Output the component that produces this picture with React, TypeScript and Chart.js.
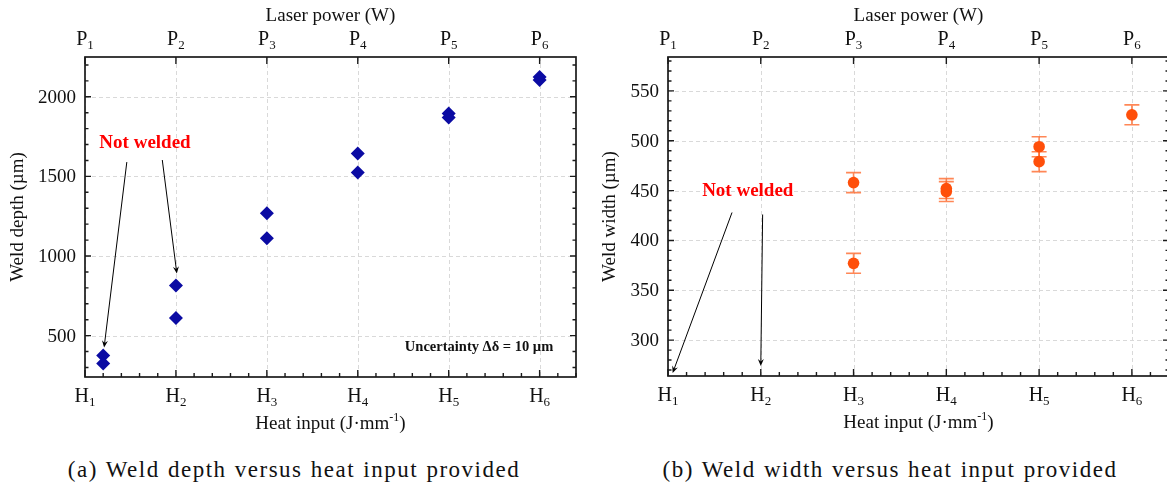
import React, { useEffect, useRef } from "react";
import { Chart, registerables } from "chart.js";
Chart.register(...registerables);

const FONT = '"Liberation Serif", "Times New Roman", Times, serif';

// Shared level positions: H1..H6 (bottom) and P1..P6 (top)
const levelPositions = [1, 2, 3, 4, 5, 6];
const levelSubscripts = ["1", "2", "3", "4", "5", "6"];

// (a) Weld depth versus heat input
const depthX = [1.2, 1.2, 2, 2, 3, 3, 4, 4, 5, 5, 6, 6];
const depthY = [375, 325, 815, 610, 1268, 1112, 1644, 1525, 1895, 1870, 2125, 2105];
const depthTicks = [500, 1000, 1500, 2000];

// (b) Weld width versus heat input
const widthX = [3, 3, 4, 4, 5, 5, 6];
const widthY = [458, 377, 452, 449, 494, 479, 526];
const widthErr = [10, 10, 10, 10, 10, 10, 10];
const widthTicks = [300, 350, 400, 450, 500, 550];

// "Not welded" annotations (data coordinates): text anchor and arrows [x0,y0,x1,y1]
const depthNoteAt = [1.66, 1710];
const depthArrows = [
  [1.46, 1590, 1.21, 425],
  [1.85, 1603, 2.01, 890],
];
const widthNoteAt = [1.86, 449];
const widthArrows = [
  [1.69, 428, 1.05, 267],
  [2.02, 426, 2.0, 274],
];
const depthUncertaintyAt = [6.15, 428];

type PanelOpts = {
  xs: number[];
  ys: number[];
  errs?: number[];
  yMin: number;
  yMax: number;
  yTicks: number[];
  yMinorStep: number;
  yTitle: string;
  padding: { left: number; right: number; top: number; bottom: number };
  pointStyle: string;
  pointRadius: number;
  color: string;
  noteAt: number[];
  arrows: number[][];
  uncertaintyAt?: number[];
  yTitleX: number;
};

function subText(
  ctx: CanvasRenderingContext2D,
  base: string,
  sub: string,
  x: number,
  y: number,
  size: number,
  subSize: number,
  subDrop: number
) {
  ctx.font = `${size}px ${FONT}`;
  const wb = ctx.measureText(base).width;
  ctx.font = `${subSize}px ${FONT}`;
  const ws = ctx.measureText(sub).width;
  const start = x - (wb + ws) / 2;
  ctx.textAlign = "left";
  ctx.textBaseline = "alphabetic";
  ctx.font = `${size}px ${FONT}`;
  ctx.fillText(base, start, y);
  ctx.font = `${subSize}px ${FONT}`;
  ctx.fillText(sub, start + wb, y + subDrop);
}

function arrow(ctx: CanvasRenderingContext2D, x0: number, y0: number, x1: number, y1: number) {
  const ang = Math.atan2(y1 - y0, x1 - x0);
  const len = 7;
  const hw = 3;
  ctx.strokeStyle = "#000";
  ctx.fillStyle = "#000";
  ctx.lineWidth = 1;
  ctx.beginPath();
  ctx.moveTo(x0, y0);
  ctx.lineTo(x1 - Math.cos(ang) * len * 0.6, y1 - Math.sin(ang) * len * 0.6);
  ctx.stroke();
  ctx.beginPath();
  ctx.moveTo(x1, y1);
  ctx.lineTo(x1 - Math.cos(ang) * len + Math.sin(ang) * hw, y1 - Math.sin(ang) * len - Math.cos(ang) * hw);
  ctx.lineTo(x1 - Math.cos(ang) * len * 0.65, y1 - Math.sin(ang) * len * 0.65);
  ctx.lineTo(x1 - Math.cos(ang) * len - Math.sin(ang) * hw, y1 - Math.sin(ang) * len + Math.cos(ang) * hw);
  ctx.closePath();
  ctx.fill();
}

function makeDecor(o: PanelOpts) {
  return {
    id: "decor",
    beforeDatasetsDraw(chart: any) {
      const ctx: CanvasRenderingContext2D = chart.ctx;
      const { left, right, top, bottom } = chart.chartArea;
      const xs = chart.scales.x;
      const ys = chart.scales.y;
      ctx.save();
      ctx.strokeStyle = "#d9d9d9";
      ctx.lineWidth = 1;
      ctx.setLineDash([4, 3]);
      for (const p of levelPositions) {
        const x = Math.round(xs.getPixelForValue(p)) + 0.5;
        ctx.beginPath();
        ctx.moveTo(x, top);
        ctx.lineTo(x, bottom);
        ctx.stroke();
      }
      for (const t of o.yTicks) {
        const y = Math.round(ys.getPixelForValue(t)) + 0.5;
        ctx.beginPath();
        ctx.moveTo(left, y);
        ctx.lineTo(right, y);
        ctx.stroke();
      }
      ctx.setLineDash([]);
      if (o.errs) {
        ctx.strokeStyle = "rgba(255, 95, 30, 0.75)";
        ctx.lineWidth = 1.6;
        o.xs.forEach((xv, i) => {
          const x = xs.getPixelForValue(xv);
          const yTop = ys.getPixelForValue(o.ys[i] + o.errs![i]);
          const yBot = ys.getPixelForValue(o.ys[i] - o.errs![i]);
          ctx.beginPath();
          ctx.moveTo(x, yTop);
          ctx.lineTo(x, yBot);
          ctx.moveTo(x - 7.5, yTop);
          ctx.lineTo(x + 7.5, yTop);
          ctx.moveTo(x - 7.5, yBot);
          ctx.lineTo(x + 7.5, yBot);
          ctx.stroke();
        });
      }
      ctx.restore();
    },
    afterDatasetsDraw(chart: any) {
      const ctx: CanvasRenderingContext2D = chart.ctx;
      const { left, right, top, bottom } = chart.chartArea;
      const xs = chart.scales.x;
      const ys = chart.scales.y;
      ctx.save();
      // frame
      ctx.strokeStyle = "#1a1a1a";
      ctx.lineWidth = 1.7;
      ctx.strokeRect(left, top, right - left, bottom - top);
      // x ticks
      ctx.lineWidth = 1.4;
      ctx.beginPath();
      for (let k = 0; k <= 27; k++) {
        const v = 1 + k * 0.2;
        if (v > 6.4001) break;
        const x = xs.getPixelForValue(v);
        const major = k % 5 === 0;
        ctx.moveTo(x, bottom);
        ctx.lineTo(x, bottom - (major ? 7 : 4));
        if (major) {
          ctx.moveTo(x, top);
          ctx.lineTo(x, top + 7);
        }
      }
      // y ticks (left and right, inward)
      const start = Math.ceil(o.yMin / o.yMinorStep) * o.yMinorStep;
      for (let v = start; v <= o.yMax + 1e-6; v += o.yMinorStep) {
        const y = ys.getPixelForValue(v);
        const major = o.yTicks.includes(Math.round(v));
        const len = major ? 6 : 3.5;
        ctx.moveTo(left, y);
        ctx.lineTo(left + len, y);
        ctx.moveTo(right, y);
        ctx.lineTo(right - len, y);
      }
      ctx.stroke();

      // tick labels
      ctx.fillStyle = "#111";
      levelPositions.forEach((p, i) => {
        const x = xs.getPixelForValue(p);
        subText(ctx, "H", levelSubscripts[i], x, bottom + 25, 20, 13, 4);
        subText(ctx, "P", levelSubscripts[i], x, top - 12, 20, 13, 4);
      });
      ctx.font = `19px ${FONT}`;
      ctx.textAlign = "right";
      ctx.textBaseline = "middle";
      for (const t of o.yTicks) {
        ctx.fillText(String(t), left - 9, ys.getPixelForValue(t) + 1);
      }
      // axis titles
      const cx = (left + right) / 2;
      ctx.textAlign = "center";
      ctx.textBaseline = "alphabetic";
      ctx.font = `19px ${FONT}`;
      ctx.fillText("Laser power (W)", cx, 21);
      // Heat input (J·mm^-1)
      const mainA = "Heat input (J\u00B7mm";
      const sup = "-1";
      const mainB = ")";
      ctx.font = `19px ${FONT}`;
      const wa = ctx.measureText(mainA).width;
      const wb = ctx.measureText(mainB).width;
      ctx.font = `12px ${FONT}`;
      const wsup = ctx.measureText(sup).width;
      let sx = cx - (wa + wsup + wb) / 2;
      const by = bottom + 52;
      ctx.textAlign = "left";
      ctx.font = `19px ${FONT}`;
      ctx.fillText(mainA, sx, by);
      ctx.font = `12px ${FONT}`;
      ctx.fillText(sup, sx + wa, by - 8);
      ctx.font = `19px ${FONT}`;
      ctx.fillText(mainB, sx + wa + wsup, by);
      // y title
      ctx.save();
      ctx.translate(o.yTitleX, (top + bottom) / 2);
      ctx.rotate(-Math.PI / 2);
      ctx.textAlign = "center";
      ctx.textBaseline = "middle";
      ctx.font = `19px ${FONT}`;
      ctx.fillText(o.yTitle, 0, 0);
      ctx.restore();

      // annotations
      ctx.font = `bold 19px ${FONT}`;
      ctx.fillStyle = "#ff0000";
      ctx.textAlign = "center";
      ctx.textBaseline = "middle";
      ctx.fillText("Not welded", xs.getPixelForValue(o.noteAt[0]), ys.getPixelForValue(o.noteAt[1]));
      for (const a of o.arrows) {
        arrow(
          ctx,
          xs.getPixelForValue(a[0]),
          ys.getPixelForValue(a[1]),
          xs.getPixelForValue(a[2]),
          ys.getPixelForValue(a[3])
        );
      }
      if (o.uncertaintyAt) {
        ctx.font = `bold 14.5px ${FONT}`;
        ctx.fillStyle = "#111";
        ctx.textAlign = "right";
        ctx.textBaseline = "middle";
        ctx.fillText(
          "Uncertainty \u0394\u03B4 = 10 \u00B5m",
          xs.getPixelForValue(o.uncertaintyAt[0]),
          ys.getPixelForValue(o.uncertaintyAt[1])
        );
      }
      ctx.restore();
    },
  };
}

function Panel({ o, width, height }: { o: PanelOpts; width: number; height: number }) {
  const ref = useRef<HTMLCanvasElement | null>(null);
  useEffect(() => {
    if (!ref.current) return;
    const chart = new Chart(ref.current, {
      type: "scatter",
      data: {
        datasets: [
          {
            data: o.xs.map((x, i) => ({ x, y: o.ys[i] })),
            pointStyle: o.pointStyle as any,
            pointRadius: o.pointRadius,
            backgroundColor: o.color,
            borderColor: o.color,
            borderWidth: 0,
          },
        ],
      },
      options: {
        animation: false,
        responsive: false,
        devicePixelRatio: 1,
        events: [],
        layout: { padding: o.padding },
        plugins: { legend: { display: false }, tooltip: { enabled: false } },
        scales: {
          x: { type: "linear", min: 1, max: 6.4, display: false },
          y: { type: "linear", min: o.yMin, max: o.yMax, display: false },
        },
      },
      plugins: [makeDecor(o) as any],
    });
    return () => chart.destroy();
  }, []);
  return <canvas ref={ref} width={width} height={height} style={{ display: "block" }} />;
}

const depthPanel: PanelOpts = {
  xs: depthX,
  ys: depthY,
  yMin: 240,
  yMax: 2250,
  yTicks: depthTicks,
  yMinorStep: 100,
  yTitle: "Weld depth (\u00B5m)",
  padding: { left: 85, right: 14, top: 57, bottom: 63 },
  pointStyle: "rectRot",
  pointRadius: 7,
  color: "#0b0ba3",
  noteAt: depthNoteAt,
  arrows: depthArrows,
  uncertaintyAt: depthUncertaintyAt,
  yTitleX: 18,
};

const widthPanel: PanelOpts = {
  xs: widthX,
  ys: widthY,
  errs: widthErr,
  yMin: 264,
  yMax: 584,
  yTicks: widthTicks,
  yMinorStep: 10,
  yTitle: "Weld width (\u00B5m)",
  padding: { left: 78, right: 11, top: 57, bottom: 64 },
  pointStyle: "circle",
  pointRadius: 5.8,
  color: "#ff4f0a",
  noteAt: widthNoteAt,
  arrows: widthArrows,
  yTitleX: 20,
};

export default function App() {
  const cap: React.CSSProperties = {
    position: "absolute",
    top: 457,
    fontFamily: FONT,
    fontSize: 23,
    lineHeight: "26px",
    color: "#111",
    whiteSpace: "nowrap",
    transform: "translateX(-50%)",
    letterSpacing: 1.5,
    wordSpacing: 1,
  };
  return (
    <div
      style={{
        position: "absolute",
        left: 0,
        top: 0,
        width: 1167,
        height: 488,
        overflow: "hidden",
        background: "#fff",
      }}
    >
      <div style={{ position: "absolute", left: 0, top: 0 }}>
        <Panel o={depthPanel} width={590} height={440} />
      </div>
      <div style={{ position: "absolute", left: 590, top: 0 }}>
        <Panel o={widthPanel} width={590} height={440} />
      </div>
      <div style={{ ...cap, left: 294 }}>(a) Weld depth versus heat input provided</div>
      <div style={{ ...cap, left: 890 }}>(b) Weld width versus heat input provided</div>
    </div>
  );
}
